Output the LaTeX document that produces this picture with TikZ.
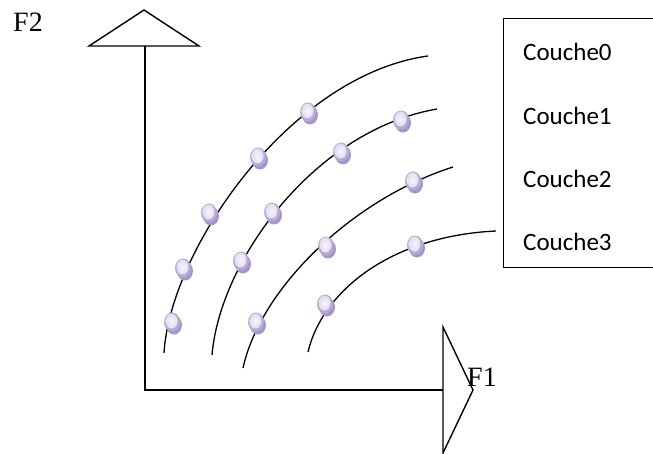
\documentclass[tikz,border=0pt]{standalone}
\usepackage{fontspec}
\setmainfont{Liberation Serif}
\newfontfamily\calibri{Carlito}
\usetikzlibrary{positioning,calc}
\definecolor{beadlight}{RGB}{226,221,240}
\definecolor{beadedge}{RGB}{184,170,215}
\definecolor{beadshade}{RGB}{165,150,200}

\begin{document}
\begin{tikzpicture}[x=1pt,y=-1pt,
  axis/.style={line width=1.8pt},
  head/.style={line width=1.4pt, fill=white, line join=miter},
  layer/.style={line width=1.3pt},
  axislabel/.style={font=\fontsize{28}{30}\selectfont, inner sep=0pt},
  layername/.style={font=\calibri\fontsize{25}{28}\selectfont, anchor=west, inner sep=0pt}]
\useasboundingbox (0,0) rectangle (653,454);
% axes
\coordinate (O) at (145,390);
\coordinate (top) at (145,46);
\coordinate (right) at (443,390);
\draw[axis] (top) -- (O) -- (right);
\draw[head] (89,46) -- (144,10) -- (199,46) -- cycle;
\draw[head] (443,327) -- (473,390) -- (443,453) -- cycle;
\node[axislabel] (f2) at (28,22) {F2};
\node[axislabel] (f1) at (482,377) {F1};
% layers
\draw[layer] (164,353) .. controls (170,250) and (290,75) .. (428,56);
\draw[layer] (212,355) .. controls (220,260) and (315,130) .. (437,109);
\draw[layer] (243,368) .. controls (260,290) and (350,200) .. (453,167);
\draw[layer] (308,352) .. controls (322,292) and (390,236) .. (496,231);
% beads
\foreach \x/\y in {172/322, 183/268, 209/213, 258/157, 308/112,
                   241/261, 272/212, 341/152, 401/120,
                   256/322, 326/246, 413/181,
                   325/304, 415/245}{
  \fill[beadshade] (\x+2,\y+3) ellipse [x radius=8, y radius=9.5];
  \fill[beadedge] (\x,\y) ellipse [x radius=8, y radius=9.5];
  \shade[inner color=white!70!beadlight, outer color=beadlight]
    (\x-0.5,\y-1) ellipse [x radius=6, y radius=7.5];
}
% legend box
\draw[line width=1pt] (653,19) -- (503,19) -- (503,268) -- (653,268);
\node[layername] (c0) at (523,52) {Couche0};
\node[layername] (c1) at (523,116) {Couche1};
\node[layername] (c2) at (523,179) {Couche2};
\node[layername] (c3) at (523,242) {Couche3};
\end{tikzpicture}
\end{document}
